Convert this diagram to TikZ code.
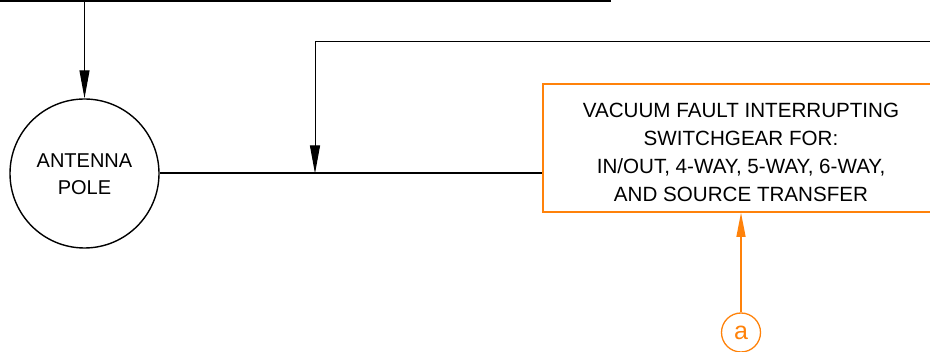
\documentclass[tikz,border=0pt]{standalone}
\usepackage{fontspec}
\setmainfont{Liberation Sans}
\usetikzlibrary{arrows.meta}
\definecolor{tagorange}{RGB}{255,130,10}
\tikzset{
  thinline/.style={line width=1pt, black},
  mainline/.style={line width=2pt, black},
  blackarrow/.style={thinline, -{Triangle[length=28pt, width=10pt]}},
  orangearrow/.style={line width=1.3pt, tagorange, -{Triangle[length=24pt, width=9pt]}},
  polenode/.style={circle, draw, line width=1.4pt, minimum size=149pt, inner sep=0pt},
  poletext/.style={align=center, inner sep=0pt, font=\fontsize{20}{27}\selectfont},
  switchbox/.style={draw=tagorange, line width=1.6pt, minimum width=396pt, minimum height=128pt, inner sep=0pt},
  boxtext/.style={align=center, inner sep=0pt, font=\fontsize{20.6}{28}\selectfont},
  tagnode/.style={circle, draw=tagorange, text=tagorange, line width=1.3pt, minimum size=39pt, inner sep=0pt, font=\fontsize{25}{25}\selectfont}
}
\begin{document}
\begin{tikzpicture}[x=1pt, y=-1pt]
\useasboundingbox (0,0) rectangle (930,352);
\begin{scope}
\clip (0,0) rectangle (930,352);
\node[polenode] (pole) at (84.5,173.5) {};
\node[poletext] (poletxt) at (84.5,174.5) {ANTENNA\\POLE};
\node[switchbox] (box) at (741,148) {};
\node[boxtext] (boxtxt) at (741,152) {VACUUM FAULT INTERRUPTING\\SWITCHGEAR FOR:\\IN/OUT, 4-WAY, 5-WAY, 6-WAY,\\AND SOURCE TRANSFER};
\node[tagnode] (tag) at (741,332.5) {a};
\coordinate (topL) at (0,1);
\coordinate (topR) at (611,1);
\coordinate (topA) at (pole.north |- topL);
\coordinate (rightIn) at (930,42);
\coordinate (bend) at (315,42);
\coordinate (junc) at (315,173.5);
\draw[mainline] (topL) -- (topR);
\draw[blackarrow] (topA) -- (pole.north);
\draw[mainline] (pole.east) -- (pole.east -| box.west);
\draw[blackarrow] (rightIn) -- (bend) -- (junc);
\draw[orangearrow] (tag.north) -- (box.south);
\end{scope}
\end{tikzpicture}
\end{document}
